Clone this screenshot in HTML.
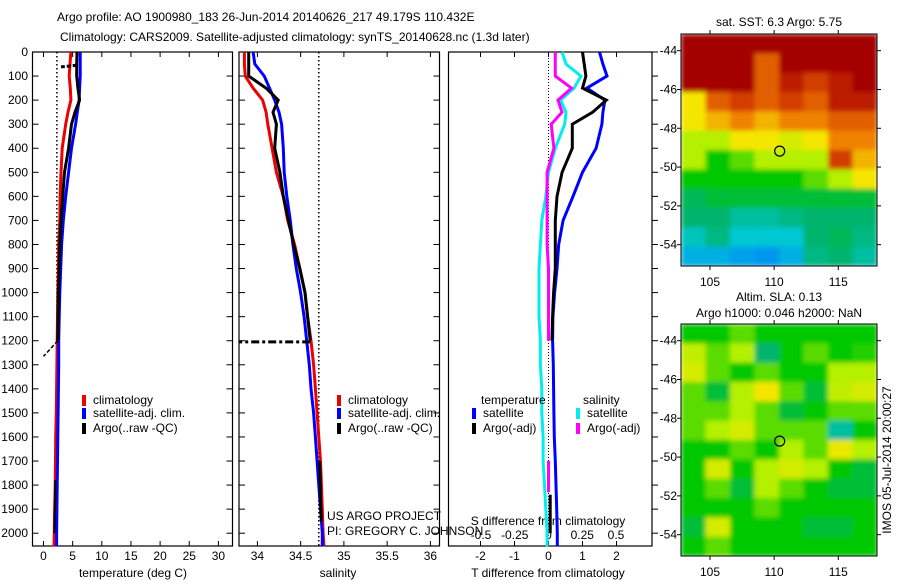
<!DOCTYPE html>
<html><head><meta charset="utf-8">
<style>
html,body{margin:0;padding:0;background:#fff;}
svg{display:block;font-family:"Liberation Sans",sans-serif;}
text{font-size:12px;fill:#000;}
</style></head>
<body>
<svg id="fig" width="900" height="580" viewBox="0 0 900 580" xmlns="http://www.w3.org/2000/svg">
<defs><filter id="soft" x="0" y="0" width="1" height="1"><feGaussianBlur stdDeviation="2.5" edgeMode="duplicate"/></filter>
<clipPath id="clipSst"><rect x="681" y="34" width="196" height="232"/></clipPath>
<clipPath id="clipSla"><rect x="681" y="324" width="196" height="232"/></clipPath></defs>
</svg>
<script>
// ---------------- data ----------------
const depths = [0,50,100,150,200,250,300,400,500,600,700,800,900,1000,1100,1200];
const tempClim = [4.7,4.55,4.4,4.6,4.7,4.2,3.8,3.2,3.0,2.85,2.8,2.6,2.55,2.45,2.4,2.35];
const tempSat  = [6.3,6.3,6.3,6.2,6.1,5.8,5.5,4.8,4.3,3.8,3.4,3.1,2.95,2.8,2.7,2.6];
const tempArgo = [5.75,5.7,5.7,5.9,6.2,5.4,4.8,4.3,3.6,3.3,3.0,2.8,2.7,2.55,2.5,2.45];
const deepDepths = [1200,1300,1400,1500,1600,1700,1800,1900,2000,2055];
const tempClimDeep = [2.35,2.3,2.25,2.2,2.1,2.05,2.0,1.9,1.85,1.8];
const tempSatDeep  = [2.6,2.6,2.55,2.5,2.45,2.4,2.35,2.3,2.25,2.25];
const salClim = [33.85,33.85,33.86,33.95,34.06,34.1,34.12,34.17,34.22,34.3,34.35,34.43,34.49,34.55,34.58,34.62];
const salSat  = [33.95,33.97,34.08,34.14,34.2,34.25,34.28,34.3,34.31,34.34,34.38,34.41,34.45,34.5,34.54,34.57];
const salArgo = [33.9,33.9,33.9,34.1,34.24,34.18,34.22,34.2,34.26,34.3,34.36,34.42,34.49,34.55,34.58,34.61];
const salClimDeep = [34.62,34.65,34.67,34.69,34.71,34.73,34.74,34.75,34.76,34.77];
const salSatDeep  = [34.57,34.6,34.62,34.65,34.67,34.69,34.71,34.73,34.75,34.75];
const tdiffSat  = [1.5,1.6,1.72,1.13,1.66,1.6,1.57,1.4,1.0,0.72,0.43,0.3,0.25,0.18,0.13,0.12];
const tdiffArgo = [1.0,1.05,1.1,1.0,1.7,1.3,0.7,0.7,0.4,0.25,0.2,0.2,0.2,0.15,0.12,0.1];
const sdiffSat  = [0.1,0.13,0.24,0.19,0.09,0.13,0.12,0.05,0.0,-0.02,-0.05,-0.06,-0.07,-0.07,-0.07,-0.06];
const sdiffArgo = [0.05,0.05,0.05,0.17,0.07,0.1,0.02,0.04,-0.01,-0.01,-0.01,-0.01,0.0,0.0,0.0,0.0];
const tdiffSatDeep = [0.12,0.14,0.15,0.16,0.17,0.2,0.22,0.24,0.26,0.26];
const sdiffSatDeep = [-0.06,-0.06,-0.05,-0.05,-0.04,-0.04,-0.03,-0.02,-0.01,-0.01];
const depthTicks = [0,100,200,300,400,500,600,700,800,900,1000,1100,1200,1300,1400,1500,1600,1700,1800,1900,2000];
const tempTicks = [0,5,10,15,20,25,30];
const salTicks = [34,34.5,35,35.5,36];
const salTickLabels = ["34","34.5","35","35.5","36"];
const tdiffTicks = [-2,-1,0,1,2];
const sdiffTicks = [-0.5,-0.25,0,0.25,0.5];
const sdiffTickLabels = ["-0.5","-0.25","0","0.25","0.5"];
const latTicks = [-44,-46,-48,-50,-52,-54];
const lonTicks = [105,110,115];
const sstGrid = [
[1,1,1,1,1,1,1,1],
[1,1,1,0.85,1,1,1,1],
[1,1,1,0.85,0.95,0.9,0.95,1],
[0.7,0.85,0.9,0.85,0.9,0.85,0.95,0.95],
[0.7,0.75,0.8,0.75,0.8,0.8,0.85,0.85],
[0.6,0.6,0.7,0.7,0.65,0.7,0.8,0.8],
[0.6,0.5,0.55,0.6,0.6,0.6,0.9,0.75],
[0.5,0.5,0.5,0.5,0.5,0.55,0.6,0.7],
[0.42,0.45,0.45,0.45,0.45,0.45,0.45,0.45],
[0.4,0.4,0.35,0.35,0.38,0.4,0.4,0.4],
[0.32,0.38,0.3,0.3,0.3,0.4,0.42,0.38],
[0.25,0.25,0.22,0.2,0.25,0.38,0.4,0.35]];
const slaGrid = [
[.5,.5,.55,.5,.5,.5,.5,.5],
[.62,.55,.6,.4,.5,.55,.5,.52],
[.65,.55,.5,.55,.5,.5,.6,.6],
[.55,.45,.6,.7,.55,.45,.62,.65],
[.55,.55,.6,.55,.45,.5,.55,.55],
[.55,.6,.65,.55,.55,.55,.35,.5],
[.5,.5,.55,.5,.6,.55,.68,.6],
[.5,.65,.5,.6,.65,.6,.5,.45],
[.5,.55,.45,.6,.55,.5,.45,.45],
[.5,.5,.5,.55,.5,.5,.5,.5],
[.45,.65,.5,.5,.5,.45,.45,.5],
[.5,.55,.5,.5,.5,.5,.5,.5]];
const argoLat = -49.179, argoLon = 110.432;

// ---------------- helpers ----------------
const NS = "http://www.w3.org/2000/svg";
const svg = document.getElementById('fig');
function mk(tag, attrs, parent){
  const e = document.createElementNS(NS, tag);
  for (const k in attrs) e.setAttribute(k, attrs[k]);
  (parent||svg).appendChild(e);
  return e;
}
function txt(s, x, y, anchor, parent){
  const t = mk('text', {x:x, y:y, 'text-anchor':anchor||'start'}, parent);
  t.textContent = s;
  return t;
}
const TOP = 52, BOT = 546;
const yD = d => TOP + d*0.2406;
function lin(d0,d1,r0,r1){ return v => r0 + (v-d0)*(r1-r0)/(d1-d0); }
const xT = lin(0,30,43.5,218.4);
const xS = lin(34,36,257.4,430.4);
const xTd = lin(0,2,548.5,616.5);
const xSd = lin(0,0.5,548.5,616);
function poly(xs, ds, fx, color, w, name, dash){
  const pts = xs.map((v,i)=> fx(v).toFixed(1)+','+yD(ds[i]).toFixed(1)).join(' ');
  const p = mk('polyline', {points:pts, fill:'none', stroke:color, 'stroke-width':w});
  if (dash) p.setAttribute('stroke-dasharray', dash);
  
  
  return p;
}
function panelFrame(x0,x1,name){
  const r = mk('rect', {x:x0, y:TOP, width:x1-x0, height:BOT-TOP, fill:'none', stroke:'#000', 'stroke-width':1.2});
  
  
}
function depthTickMarks(x, dir){
  depthTicks.forEach(d=>{
    const l = mk('line', {x1:x, x2:x+dir*6, y1:yD(d), y2:yD(d), stroke:'#000'});
    
    
  });
}
function xTickMarks(vals, labels, fx, y, name){
  vals.forEach((v,i)=>{
    const x = fx(v);
    const a = mk('line', {x1:x, x2:x, y1:BOT, y2:BOT-5, stroke:'#000'});
    
    
    const b = mk('line', {x1:x, x2:x, y1:TOP, y2:TOP+5, stroke:'#000'});
    
    
    const t = txt(labels[i], x, y, 'middle');
    
    
  });
}
function legendEntry(x, y, color, label){
  const r = mk('rect', {x:x, y:y-9, width:4, height:11, fill:color});
  
  
  const t = txt(label, x+11, y);
  
  
}

// ---------------- titles ----------------
let t1 = txt('Argo profile: AO 1900980_183 26-Jun-2014 20140626_217 49.179S 110.432E', 57, 21);


let t2 = txt('Climatology: CARS2009. Satellite-adjusted climatology: synTS_20140628.nc (1.3d later)', 60, 41);



// ---------------- panel 1: temperature ----------------
panelFrame(32.5, 232.5, 'temperature-panel');
depthTickMarks(32.5, 1); depthTickMarks(232.5, -1);
depthTicks.forEach(d=>{
  const t = txt(String(d), 28, yD(d)+4, 'end');
  
  
});
xTickMarks(tempTicks, tempTicks.map(String), xT, 560, 'temperature-axis');
let xl1 = txt('temperature (deg C)', 133, 577, 'middle');


poly([2.3,2.3], [0,2055], xT, '#000', 1.5, 'temperature-reference-dotted', '1.5,2.5');
poly(tempClim, depths, xT, '#e00', 3, 'temperature-climatology-line');
poly(tempClimDeep, deepDepths, xT, '#e00', 3, 'temperature-climatology-deep');
poly(tempSat, depths, xT, '#00f', 3, 'temperature-satellite-line');
poly(tempSatDeep, deepDepths, xT, '#00f', 3, 'temperature-satellite-deep');
poly(tempArgo, depths, xT, '#000', 3, 'temperature-argo-line');
poly([5.7,3.9,3.0], [55,60,62], xT, '#000', 3, 'temperature-argo-spike', '4,2');
poly([2.45,0], [1200,1265], xT, '#000', 1.5, 'temperature-argo-bad-tail', '4,2');
poly([2.0,2.0,1.9,1.85], [1780,1850,1950,2000], xT, '#000', 2, 'temperature-argo-deep');
legendEntry(82, 404, '#e00', 'climatology');
legendEntry(82, 417, '#00f', 'satellite-adj. clim.');
legendEntry(82, 432, '#000', 'Argo(..raw -QC)');

// ---------------- panel 2: salinity ----------------
panelFrame(239, 439.5, 'salinity-panel');
depthTickMarks(239, 1); depthTickMarks(439.5, -1);
xTickMarks(salTicks, salTickLabels, xS, 560, 'salinity-axis');
let xl2 = txt('salinity', 338, 577, 'middle');


poly([34.71,34.71], [0,2055], xS, '#000', 1.5, 'salinity-reference-dotted', '1.5,2.5');
poly(salClim, depths, xS, '#e00', 3, 'salinity-climatology-line');
poly(salClimDeep, deepDepths, xS, '#e00', 3, 'salinity-climatology-deep');
poly(salSat, depths, xS, '#00f', 3, 'salinity-satellite-line');
poly(salSatDeep, deepDepths, xS, '#00f', 3, 'salinity-satellite-deep');
poly(salArgo, depths, xS, '#000', 3, 'salinity-argo-line');
poly([34.61,33.79], [1205,1205], xS, '#000', 3, 'salinity-argo-bad-tail', '8,3,3,3');
poly([34.72,34.73,34.74], [1700,1850,1950], xS, '#000', 3, 'salinity-argo-deep');
legendEntry(337, 404, '#e00', 'climatology');
legendEntry(337, 417, '#00f', 'satellite-adj. clim.');
legendEntry(337, 432, '#000', 'Argo(..raw -QC)');
let cr1 = txt('US ARGO PROJECT', 327, 520);


let cr2 = txt('PI: GREGORY C. JOHNSON', 327, 535);



// ---------------- panel 3: differences ----------------
panelFrame(448.5, 652, 'difference-panel');
depthTickMarks(652, 1);
xTickMarks(tdiffTicks, tdiffTicks.map(String), xTd, 560, 'tdiff-axis');
sdiffTicks.forEach((v,i)=>{
  const t = txt(sdiffTickLabels[i], xSd(v), 539, 'middle');
  
  
});
let xl3 = txt('T difference from climatology', 548, 577, 'middle');


let xl4 = txt('S difference from climatology', 548, 525, 'middle');


poly([0,0], [0,2055], xTd, '#000', 1, 'zero-difference-dotted', '1,2');
poly(sdiffSat, depths, xSd, '#0ee', 3, 'salinity-diff-satellite-line');
poly(sdiffSatDeep, deepDepths, xSd, '#0ee', 3, 'salinity-diff-satellite-deep');
poly(sdiffArgo, depths, xSd, '#f0f', 3, 'salinity-diff-argo-line');
poly([0,0], [1700,1830], xSd, '#f0f', 3, 'salinity-diff-argo-deep');
poly(tdiffSat, depths, xTd, '#00f', 3, 'temperature-diff-satellite-line');
poly(tdiffSatDeep, deepDepths, xTd, '#00f', 3, 'temperature-diff-satellite-deep');
poly(tdiffArgo, depths, xTd, '#000', 3, 'temperature-diff-argo-line');
poly([0.05,0.05], [1840,2000], xTd, '#000', 3, 'temperature-diff-argo-deep');
let lt = txt('temperature', 481, 404);


let ls = txt('salinity', 583, 404);


legendEntry(472, 417, '#00f', 'satellite');
legendEntry(472, 432, '#000', 'Argo(-adj)');
legendEntry(576, 417, '#0ee', 'satellite');
legendEntry(576, 432, '#f0f', 'Argo(-adj)');

// ---------------- maps ----------------
const cmapStops = [[0,[0,64,208]],[0.2,[0,150,240]],[0.3,[0,200,210]],[0.4,[0,180,110]],[0.5,[0,200,0]],[0.6,[180,240,0]],[0.7,[245,230,0]],[0.8,[240,130,0]],[0.9,[210,60,0]],[1,[165,0,0]]];
function cmap(v){
  v = Math.max(0, Math.min(1, v));
  for (let k=1;k<cmapStops.length;k++){
    if (v <= cmapStops[k][0]){
      const a = cmapStops[k-1], b = cmapStops[k];
      const f = (v-a[0])/(b[0]-a[0]);
      const c = a[1].map((x,i)=>Math.round(x+(b[1][i]-x)*f));
      return 'rgb('+c.join(',')+')';
    }
  }
  return 'rgb(165,0,0)';
}
function drawMap(grid, top, bottom, name, clipId, titles){
  const L = 681, R = 877;
  const latTop = -43.14, latBot = -55.1, lonL = 102.74, lonR = 118.02;
  const yL = lin(latTop, latBot, top, bottom);
  const xL = lin(lonL, lonR, L, R);
  const rows = grid.length, cols = grid[0].length;
  const outer = mk('g', {'clip-path':'url(#'+clipId+')'});
  const g = mk('g', {filter:'url(#soft)'}, outer);
  
  
  for (let i=0;i<rows;i++){
    for (let j=0;j<cols;j++){
      const la0 = latTop + (latBot-latTop)*i/rows, la1 = latTop + (latBot-latTop)*(i+1)/rows;
      const lo0 = lonL + (lonR-lonL)*j/cols, lo1 = lonL + (lonR-lonL)*(j+1)/cols;
      const c = mk('rect', {x:xL(lo0), y:yL(la0), width:xL(lo1)-xL(lo0)+0.5, height:yL(la1)-yL(la0)+0.5, fill:cmap(grid[i][j])}, g);
      
      
    }
  }
  const fr = mk('rect', {x:L, y:top, width:R-L, height:bottom-top, fill:'none', stroke:'#000'});
  
  
  latTicks.forEach(la=>{
    const y = yL(la);
    mk('line', {x1:L-4, x2:L, y1:y, y2:y, stroke:'#000'});
    mk('line', {x1:R, x2:R+4, y1:y, y2:y, stroke:'#000'});
    const t = txt(String(la), L-4, y+4, 'end');
    
    
  });
  lonTicks.forEach(lo=>{
    const x = xL(lo);
    mk('line', {x1:x, x2:x, y1:bottom, y2:bottom+4, stroke:'#000'});
    mk('line', {x1:x, x2:x, y1:top-4, y2:top, stroke:'#000'});
    const t = txt(String(lo), x, bottom+20, 'middle');
    
    
  });
  const m = mk('circle', {cx:xL(argoLon), cy:yL(argoLat), r:5, fill:'none', stroke:'#000', 'stroke-width':1.2});
  
  
  titles.forEach((s,k)=>{
    const t = txt(s[0], 779, s[1], 'middle');
    
    
  });
}
drawMap(sstGrid, 34, 266, 'sst-map', 'clipSst', [['sat. SST: 6.3 Argo: 5.75', 26]]);
drawMap(slaGrid, 324, 556, 'sla-map', 'clipSla', [['Altim. SLA: 0.13', 301], ['Argo h1000: 0.046 h2000: NaN', 317]]);
let rot = txt('IMOS 05-Jul-2014 20:00:27', 0, 0, 'middle');
rot.setAttribute('transform', 'translate(891,460) rotate(-90)');


</script>
</body></html>
